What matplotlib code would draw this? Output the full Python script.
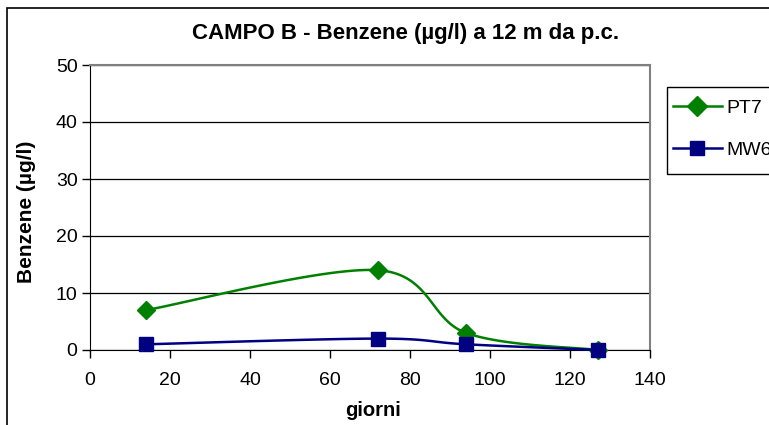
import numpy as np
import matplotlib.pyplot as plt
from matplotlib.patches import Rectangle

plt.rcParams['font.family'] = ['Liberation Sans', 'DejaVu Sans']

# ---------- data ----------
giorni = [14, 72, 94, 127]
pt7 = [7, 14, 3, 0]
mw6 = [1, 2, 1, 0]

# ---------- helpers ----------
def smooth_curve(xs, ys, n=40):
    """Spreadsheet-style smoothed line: cubic Bezier through every point."""
    p = np.column_stack([xs, ys]).astype(float)
    ext = np.vstack([p[0], p, p[-1]])
    out = []
    t = np.linspace(0, 1, n)[:, None]
    for i in range(len(p) - 1):
        p0, p3 = ext[i + 1], ext[i + 2]
        c1 = p0 + (ext[i + 2] - ext[i]) / 6.0
        c2 = p3 - (ext[i + 3] - ext[i + 1]) / 6.0
        seg = ((1 - t) ** 3) * p0 + 3 * ((1 - t) ** 2) * t * c1 \
            + 3 * (1 - t) * t ** 2 * c2 + t ** 3 * p3
        out.append(seg)
    c = np.vstack(out)
    return c[:, 0], c[:, 1]

# ---------- plot ----------
W, H = 769, 425
fig = plt.figure(figsize=(W / 100, H / 100), dpi=100)
ax = fig.add_axes([90 / W, 1 - 350 / H, (650 - 90) / W, (350 - 65) / H])

# outer chart frame (runs off the right and bottom edges)
fig.patches.append(Rectangle((7 / W, -0.1), 1.2, 1 - 8 / H + 0.1,
                             transform=fig.transFigure, fill=False,
                             edgecolor='black', linewidth=1.2))
# legend frame (also cut by the right edge)
fig.patches.append(Rectangle((667 / W, 1 - 174 / H), 0.5, 87 / H,
                             transform=fig.transFigure, fill=False,
                             edgecolor='black', linewidth=1))

green, navy = '#008000', '#000080'
sx, sy = smooth_curve(giorni, pt7)
ax.plot(sx, sy, color=green, lw=1.8, zorder=3)
ax.plot(giorni, pt7, ls='none', marker='D', ms=9, color=green, zorder=4)
sx, sy = smooth_curve(giorni, mw6)
ax.plot(sx, sy, color=navy, lw=1.8, zorder=5)
ax.plot(giorni, mw6, ls='none', marker='s', ms=10, color=navy, zorder=6)

ax.set_xlim(0, 140)
ax.set_ylim(0, 50)
ax.set_xticks(range(0, 141, 20))
ax.set_yticks(range(0, 51, 10))
ax.tick_params(direction='out', length=6, width=1, labelsize=14, pad=3)
ax.tick_params(axis='x', pad=10)
ax.grid(axis='y', color='black', lw=0.9)
ax.set_axisbelow(True)
for side in ('left', 'bottom'):
    ax.spines[side].set_color('black')
for side in ('top', 'right'):
    ax.spines[side].set_color('#808080')
    ax.spines[side].set_linewidth(1.5)
for clip_line in ax.get_lines():
    clip_line.set_clip_on(False)

fig.text(406 / W, 1 - 33 / H,
         'CAMPO B - Benzene (\u00b5g/l) a 12 m da p.c.',
         ha='center', va='center', fontsize=16, fontweight='bold')
fig.text(373 / W, 1 - 410 / H, 'giorni', ha='center', va='center',
         fontsize=14.5, fontweight='bold')
fig.text(27 / W, 1 - 212 / H, 'Benzene (\u00b5g/l)', ha='center', va='center',
         rotation=90, fontsize=15, fontweight='bold')

# legend entries: line + marker samples
h1, = ax.plot([], [], color=green, lw=1.8, marker='D', ms=10)
h2, = ax.plot([], [], color=navy, lw=1.8, marker='s', ms=10)
leg = fig.legend([h1, h2], ['PT7', 'MW6'], loc='upper left',
                 bbox_to_anchor=(673 / W, 1 - 99 / H), bbox_transform=fig.transFigure,
                 fontsize=14, frameon=False,
                 handlelength=2.5, handletextpad=0.25, labelspacing=1.2,
                 borderpad=0, borderaxespad=0, handleheight=0.8)

fig.savefig('out.png', dpi=100)
